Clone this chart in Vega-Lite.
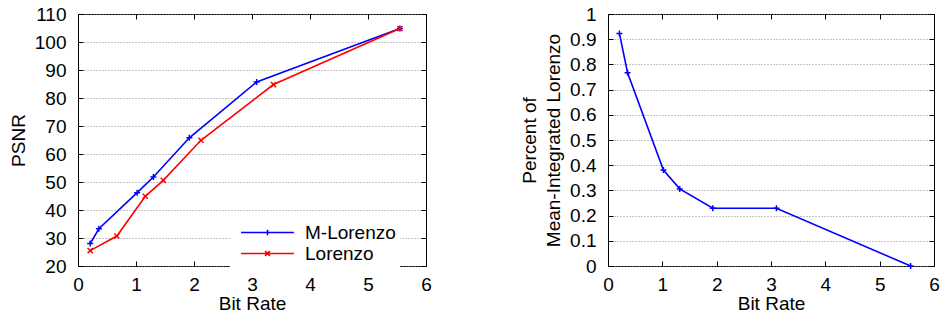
{
  "$schema": "https://vega.github.io/schema/vega-lite/v6.json",
  "padding": {"left": 8, "top": 4, "right": 5, "bottom": 5},
  "background": "white",
  "datasets": {
    "psnr": [
      {"method": "M-Lorenzo", "rate": 0.21, "psnr": 28.0},
      {"method": "M-Lorenzo", "rate": 0.36, "psnr": 33.3},
      {"method": "M-Lorenzo", "rate": 1.02, "psnr": 46.2},
      {"method": "M-Lorenzo", "rate": 1.30, "psnr": 51.8},
      {"method": "M-Lorenzo", "rate": 1.92, "psnr": 65.8},
      {"method": "M-Lorenzo", "rate": 3.08, "psnr": 85.7},
      {"method": "M-Lorenzo", "rate": 5.55, "psnr": 104.8},
      {"method": "Lorenzo", "rate": 0.21, "psnr": 25.5},
      {"method": "Lorenzo", "rate": 0.67, "psnr": 30.7},
      {"method": "Lorenzo", "rate": 1.16, "psnr": 44.9},
      {"method": "Lorenzo", "rate": 1.47, "psnr": 50.6},
      {"method": "Lorenzo", "rate": 2.12, "psnr": 64.9},
      {"method": "Lorenzo", "rate": 3.37, "psnr": 84.8},
      {"method": "Lorenzo", "rate": 5.55, "psnr": 104.8}
    ],
    "pct": [
      {"rate": 0.21, "pct": 0.923},
      {"rate": 0.36, "pct": 0.767},
      {"rate": 1.02, "pct": 0.381},
      {"rate": 1.32, "pct": 0.306},
      {"rate": 1.93, "pct": 0.229},
      {"rate": 3.10, "pct": 0.229},
      {"rate": 5.57, "pct": 0.0}
    ]
  },
  "spacing": 88,
  "hconcat": [
    {
      "width": 348,
      "height": 252,
      "data": {"name": "psnr"},
      "layer": [
        {
          "mark": {"type": "line", "strokeWidth": 1.6},
          "encoding": {
            "x": {"field": "rate", "type": "quantitative", "scale": {"domain": [0, 6], "nice": false},
                  "axis": {"values": [0, 1, 2, 3, 4, 5, 6], "title": "Bit Rate", "grid": false}},
            "y": {"field": "psnr", "type": "quantitative", "scale": {"domain": [20, 110], "nice": false, "zero": false},
                  "axis": {"values": [20, 30, 40, 50, 60, 70, 80, 90, 100, 110], "title": "PSNR", "grid": true}},
            "color": {"field": "method", "type": "nominal",
                      "scale": {"domain": ["M-Lorenzo", "Lorenzo"], "range": ["#0000ff", "#ff0000"]},
                      "legend": {
                        "orient": "none", "legendX": 152, "legendY": 205, "title": null,
                        "fillColor": "white", "padding": 4, "symbolSize": 64, "symbolOffset": 24,
                        "labelOffset": 28, "rowPadding": 1, "labelFontSize": 19, "symbolStrokeWidth": 1.6,
                        "encode": {"symbols": {"update": {"shape": {"signal": "datum.value == 'M-Lorenzo' ? 'M-6.6,0H6.6M0,-0.7V0.7' : 'M-6.6,0H6.6M-0.6,-0.6L0.6,0.6M-0.6,0.6L0.6,-0.6'"}, "fill": {"value": "transparent"}}}}
                      }},
            "order": {"field": "rate", "type": "quantitative"}
          }
        },
        {
          "transform": [{"filter": "datum.method == 'M-Lorenzo'"}],
          "mark": {"type": "point", "filled": false, "size": 36, "strokeWidth": 1.5, "opacity": 1, "color": "#0000ff", "shape": "M-1,0H1M0,-1V1"},
          "encoding": {
            "x": {"field": "rate", "type": "quantitative", "axis": null},
            "y": {"field": "psnr", "type": "quantitative", "axis": null}
          }
        },
        {
          "transform": [{"filter": "datum.method == 'Lorenzo'"}],
          "mark": {"type": "point", "filled": false, "size": 36, "strokeWidth": 1.5, "opacity": 1, "color": "#ff0000", "shape": "M-0.85,-0.85L0.85,0.85M-0.85,0.85L0.85,-0.85"},
          "encoding": {
            "x": {"field": "rate", "type": "quantitative", "axis": null},
            "y": {"field": "psnr", "type": "quantitative", "axis": null}
          }
        },
        {
          "mark": {"type": "line", "opacity": 0},
          "encoding": {
            "x": {"field": "rate", "type": "quantitative",
                  "axis": {"orient": "top", "values": [0, 1, 2, 3, 4, 5, 6], "labels": false, "title": null, "grid": false}},
            "y": {"field": "psnr", "type": "quantitative",
                  "axis": {"orient": "right", "values": [20, 30, 40, 50, 60, 70, 80, 90, 100, 110], "labels": false, "title": null, "grid": false}},
            "detail": {"field": "method"}
          }
        }
      ],
      "resolve": {"axis": {"x": "independent", "y": "independent"}}
    },
    {
      "width": 326,
      "height": 252,
      "data": {"name": "pct"},
      "layer": [
        {
          "mark": {"type": "line", "strokeWidth": 1.6, "color": "#0000ff"},
          "encoding": {
            "x": {"field": "rate", "type": "quantitative", "scale": {"domain": [0, 6], "nice": false},
                  "axis": {"values": [0, 1, 2, 3, 4, 5, 6], "title": "Bit Rate", "grid": false}},
            "y": {"field": "pct", "type": "quantitative", "scale": {"domain": [0, 1], "nice": false},
                  "axis": {"values": [0, 0.1, 0.2, 0.3, 0.4, 0.5, 0.6, 0.7, 0.8, 0.9, 1], "format": ".1~f",
                           "title": ["Percent of", "Mean-Integrated Lorenzo"], "titleLineHeight": 24, "grid": true}}
          }
        },
        {
          "mark": {"type": "point", "filled": false, "size": 36, "strokeWidth": 1.5, "color": "#0000ff", "shape": "M-1,0H1M0,-1V1", "opacity": 1},
          "encoding": {
            "x": {"field": "rate", "type": "quantitative", "axis": null},
            "y": {"field": "pct", "type": "quantitative", "axis": null}
          }
        },
        {
          "mark": {"type": "line", "opacity": 0},
          "encoding": {
            "x": {"field": "rate", "type": "quantitative",
                  "axis": {"orient": "top", "values": [0, 1, 2, 3, 4, 5, 6], "labels": false, "title": null, "grid": false}},
            "y": {"field": "pct", "type": "quantitative",
                  "axis": {"orient": "right", "values": [0, 0.1, 0.2, 0.3, 0.4, 0.5, 0.6, 0.7, 0.8, 0.9, 1], "labels": false, "title": null, "grid": false}}
          }
        }
      ],
      "resolve": {"axis": {"x": "independent", "y": "independent"}}
    }
  ],
  "config": {
    "font": "Liberation Sans",
    "view": {"stroke": "black", "strokeWidth": 1},
    "axis": {
      "domain": false,
      "labelFont": "Liberation Sans", "labelFontSize": 19, "labelColor": "black",
      "titleFont": "Liberation Sans", "titleFontSize": 19, "titleFontWeight": "normal", "titleColor": "black",
      "tickColor": "black", "tickSize": -5, "tickWidth": 1,
      "gridColor": "#888888", "gridDash": [1, 2], "gridWidth": 1,
      "labelFlush": false, "labelOverlap": false
    },
    "axisX": {"titlePadding": 0, "labelPadding": 14},
    "axisY": {"titlePadding": 6, "labelPadding": 17},
    "legend": {"labelFont": "Liberation Sans", "labelColor": "black"}
  }
}
